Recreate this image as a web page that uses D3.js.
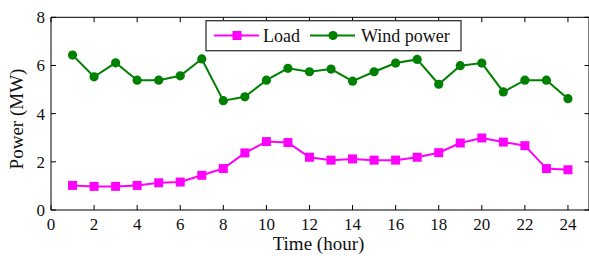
<!DOCTYPE html>
<html><head><meta charset="utf-8">
<script src="https://cdn.jsdelivr.net/npm/d3@7"></script>
<style>body{margin:0;background:#fff}svg{display:block}text{font-family:"Liberation Serif","Times New Roman",serif;fill:#111}</style>
</head><body><svg id="c" width="589" height="256"></svg>
<script>
const hours = d3.range(1,25);
const loadValues = [1.02,0.98,0.98,1.02,1.13,1.16,1.44,1.72,2.37,2.84,2.80,2.19,2.07,2.12,2.07,2.07,2.19,2.38,2.78,2.99,2.82,2.67,1.72,1.67];
const windValues = [6.43,5.53,6.11,5.39,5.39,5.57,6.27,4.54,4.70,5.39,5.88,5.74,5.85,5.35,5.74,6.10,6.25,5.22,5.99,6.10,4.90,5.39,5.39,4.62];
const xTicks = d3.range(0,25,2);
const yTicks = [0,2,4,6,8];
const seriesNames = ["Load","Wind power"];

const svg = d3.select("#c");
const L=51, R=589.5, T=17.3, B=210;
const x = d3.scaleLinear().domain([0,25]).range([L,R]);
const y = d3.scaleLinear().domain([0,8]).range([B,T]);

// frame
const g = svg.append("g");
g.append("line").attr("x1",L).attr("x2",R).attr("y1",B).attr("y2",B).attr("stroke","#000");
g.append("line").attr("x1",L).attr("x2",R).attr("y1",T).attr("y2",T).attr("stroke","#000");
g.append("line").attr("x1",L).attr("x2",L).attr("y1",T).attr("y2",B).attr("stroke","#000");
g.append("line").attr("x1",R-0.5).attr("x2",R-0.5).attr("y1",T).attr("y2",B).attr("stroke","#000");

const tk=5;
// x ticks
xTicks.forEach(v=>{
  g.append("line").attr("x1",x(v)).attr("x2",x(v)).attr("y1",B).attr("y2",B-tk).attr("stroke","#000");
  g.append("line").attr("x1",x(v)).attr("x2",x(v)).attr("y1",T).attr("y2",T+tk).attr("stroke","#000");
  g.append("text").attr("x",x(v)).attr("y",B+20).attr("text-anchor","middle").attr("font-size",17).text(v);
});
yTicks.forEach(v=>{
  g.append("line").attr("x1",L).attr("x2",L+tk).attr("y1",y(v)).attr("y2",y(v)).attr("stroke","#000");
  g.append("line").attr("x1",R).attr("x2",R-tk).attr("y1",y(v)).attr("y2",y(v)).attr("stroke","#000");
  g.append("text").attr("x",L-6).attr("y",y(v)+6).attr("text-anchor","end").attr("font-size",17).text(v);
});

svg.append("text").attr("x",318.5).attr("y",250).attr("text-anchor","middle").attr("font-size",19).text("Time (hour)");
svg.append("text").attr("transform","translate(23,119) rotate(-90)").attr("text-anchor","middle").attr("font-size",19).text("Power (MW)");

const line = d3.line().x((d,i)=>x(hours[i])).y(d=>y(d));
const magenta="#ff00ff", green="#008000";
svg.append("path").datum(windValues).attr("d",line).attr("fill","none").attr("stroke",green).attr("stroke-width",2);
svg.selectAll(".wm").data(windValues).enter().append("circle").attr("cx",(d,i)=>x(hours[i])).attr("cy",d=>y(d)).attr("r",4.6).attr("fill",green);
svg.append("path").datum(loadValues).attr("d",line).attr("fill","none").attr("stroke",magenta).attr("stroke-width",2);
const s=9;
svg.selectAll(".lm").data(loadValues).enter().append("rect").attr("x",(d,i)=>x(hours[i])-s/2).attr("y",d=>y(d)-s/2).attr("width",s).attr("height",s).attr("fill",magenta);

// legend
const lg = svg.append("g");
lg.append("rect").attr("x",206).attr("y",20.7).attr("width",255).attr("height",30).attr("fill","#fff").attr("stroke","#333").attr("stroke-width",1.3);
lg.append("line").attr("x1",214).attr("x2",259).attr("y1",35.5).attr("y2",35.5).attr("stroke",magenta).attr("stroke-width",2);
lg.append("rect").attr("x",237-4.5).attr("y",35.5-4.5).attr("width",9).attr("height",9).attr("fill",magenta);
lg.append("text").attr("x",263).attr("y",42).attr("font-size",18).text(seriesNames[0]);
lg.append("line").attr("x1",310).attr("x2",355).attr("y1",35.5).attr("y2",35.5).attr("stroke",green).attr("stroke-width",2);
lg.append("circle").attr("cx",333).attr("cy",35.5).attr("r",4.6).attr("fill",green);
lg.append("text").attr("x",361).attr("y",42).attr("font-size",18).text(seriesNames[1]);
</script></body></html>
